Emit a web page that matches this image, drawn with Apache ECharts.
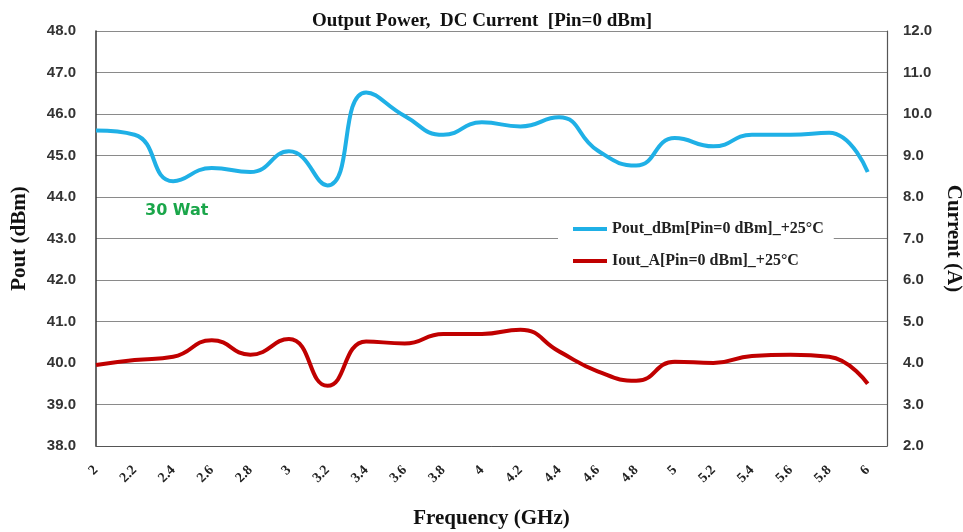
<!DOCTYPE html>
<html>
<head>
    <meta charset="utf-8">
    <title>Output Power, DC Current</title>
    <script src="https://cdn.jsdelivr.net/npm/echarts@6/dist/echarts.min.js"></script>
</head>
<body style="margin:0;background:#fff">
<div id="main" style="width: 963px;height:532px;"></div>
<script type="text/javascript">
    // frequency points (GHz)
    var freq = [2, 2.2, 2.4, 2.6, 2.8, 3, 3.2, 3.4, 3.6, 3.8, 4, 4.2, 4.4, 4.6, 4.8, 5, 5.2, 5.4, 5.6, 5.8, 6];
    // Pout in dBm
    var pout = [45.6, 45.5, 44.38, 44.7, 44.6, 45.1, 44.28, 46.52, 45.95, 45.5, 45.8, 45.7, 45.92, 45.12, 44.76, 45.42, 45.22, 45.5, 45.5, 45.55, 44.6];
    // Iout in A
    var iout = [3.95, 4.07, 4.15, 4.55, 4.2, 4.58, 3.45, 4.52, 4.47, 4.7, 4.7, 4.8, 4.28, 3.8, 3.57, 4.03, 4.0, 4.17, 4.2, 4.15, 3.5];
    var level30W = 44.64;   // 30 W reference level

    var poutData = freq.map(function (f, i) { return [f, pout[i]]; });
    var ioutData = freq.map(function (f, i) { return [f, iout[i]]; });

    var serif = 'Liberation Serif';
    var myChart = echarts.init(document.getElementById('main'));

    var option = {
        animation: false,
        title: {
            text: 'Output Power,  DC Current  [Pin=0 dBm]',
            left: 477, top: 7, textAlign: 'center',
            textStyle: {fontFamily: serif, fontWeight: 'bold', fontSize: 19, color: '#111'}
        },
        grid: {left: 96, right: 76, top: 31, bottom: 86, outerBoundsMode: 'none'},
        legend: {
            orient: 'vertical',
            left: 558, top: 215,
            backgroundColor: '#fff',
            padding: [6, 10, 6, 15],
            itemGap: 16,
            itemWidth: 34,
            itemHeight: 4,
            icon: 'rect',
            textStyle: {fontFamily: serif, fontWeight: 'bold', fontSize: 16, color: '#222'},
            data: ['Pout_dBm[Pin=0 dBm]_+25°C', 'Iout_A[Pin=0 dBm]_+25°C']
        },
        xAxis: {
            type: 'value',
            min: 2, max: 6.1, interval: 0.2,
            name: 'Frequency (GHz)',
            nameLocation: 'middle', nameGap: 62,
            nameTextStyle: {fontFamily: serif, fontWeight: 'bold', fontSize: 21, color: '#111'},
            axisLine: {lineStyle: {color: '#555', width: 1}},
            axisTick: {show: false},
            splitLine: {show: false},
            axisLabel: {
                rotate: 45, margin: 22, showMaxLabel: false,
                fontFamily: serif, fontWeight: 'bold', fontSize: 14, color: '#222',
                formatter: function (v) { return String(Math.round(v * 10) / 10); }
            }
        },
        yAxis: [{
            type: 'value', min: 38, max: 48, interval: 1,
            name: 'Pout (dBm)',
            nameLocation: 'middle', nameGap: 66, nameRotate: 90,
            nameTextStyle: {fontFamily: serif, fontWeight: 'bold', fontSize: 21, color: '#111'},
            axisLine: {show: true, lineStyle: {color: '#333', width: 1.5}},
            axisTick: {show: false},
            splitLine: {lineStyle: {color: '#8a8a8a', width: 1.2}},
            axisLabel: {
                margin: 20, fontFamily: 'Liberation Sans', fontWeight: 'bold', fontSize: 15, color: '#333',
                formatter: function (v) { return v.toFixed(1); }
            }
        }, {
            type: 'value', min: 2, max: 12, interval: 1,
            name: 'Current (A)',
            nameLocation: 'middle', nameGap: 56, nameRotate: -90,
            nameTextStyle: {fontFamily: serif, fontWeight: 'bold', fontSize: 21, color: '#111'},
            axisLine: {show: true, lineStyle: {color: '#555', width: 1.2}},
            axisTick: {show: false},
            splitLine: {show: false},
            axisLabel: {
                margin: 16, fontFamily: 'Liberation Sans', fontWeight: 'bold', fontSize: 15, color: '#333',
                formatter: function (v) { return v.toFixed(1); }
            }
        }],
        graphic: [{
            type: 'text', left: 145, top: 203,
            style: {text: '30 Wat', fill: '#1aa64a', font: 'bold 16px "DejaVu Sans"'}
        }],
        series: [{
            name: 'Pout_dBm[Pin=0 dBm]_+25°C',
            type: 'line', yAxisIndex: 0,
            data: poutData,
            smooth: 0.5, symbol: 'none',
            lineStyle: {color: '#1fb0e6', width: 4},
            itemStyle: {color: '#1fb0e6'},
            markLine: {
                silent: true, symbol: 'none', label: {show: false},
                lineStyle: {color: '#1aa64a', width: 5, type: 'solid'},
                data: [[{coord: [2.01, level30W]}, {coord: [6.15, level30W]}]]
            },
            z: 3
        }, {
            name: 'Iout_A[Pin=0 dBm]_+25°C',
            type: 'line', yAxisIndex: 1,
            data: ioutData,
            smooth: 0.5, symbol: 'none',
            lineStyle: {color: '#c00000', width: 4},
            itemStyle: {color: '#c00000'},
            z: 3
        }]
    };

    myChart.setOption(option);
</script>
</body>
</html>
